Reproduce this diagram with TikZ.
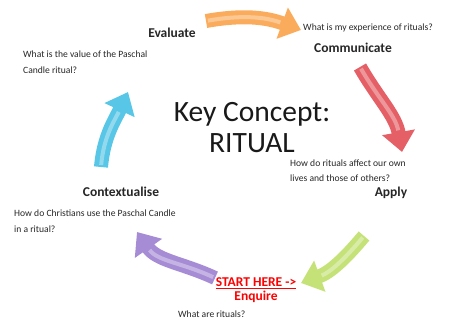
\documentclass[tikz,border=0pt]{standalone}
\usepackage{fontspec}
\setmainfont{Carlito}
\usetikzlibrary{arrows.meta}
\definecolor{evalorange}{RGB}{250,172,92}
\definecolor{applyred}{RGB}{228,96,102}
\definecolor{enqgreen}{RGB}{196,226,120}
\definecolor{ctxpurple}{RGB}{166,140,212}
\definecolor{ctxblue}{RGB}{88,198,230}
\definecolor{starthere}{RGB}{255,0,0}
\tikzset{
  stage/.style={font=\fontsize{13.5}{15}\selectfont\bfseries, text=black!85},
  question/.style={font=\fontsize{9.6}{15.5}\selectfont, text=black!85, align=left, anchor=west, inner sep=0pt},
  cyclearrow/.style={line width=14pt, -{Triangle[width=32pt,length=20pt]},
    postaction={draw=white, draw opacity=0.35, line width=4pt, -, shorten >=22pt, shorten <=2pt}}
}
\begin{document}
\begin{tikzpicture}[x=1pt,y=1pt]
\useasboundingbox (0,0) rectangle (470,320);
% centre
\node (key) at (252,192) [font=\fontsize{29.5}{31}\selectfont, align=center, text=black!90] {Key Concept:\\RITUAL};
% stages
\node[stage] (evaluate) at (172,287) {Evaluate};
\node[stage] (communicate) at (353,272) {Communicate};
\node[stage] (apply) at (391,127) {Apply};
\node[stage] (contextualise) at (121,128) {Contextualise};
\node[stage, text=starthere] (start) at (256,37) {\underline{START HERE ->}};
\node[stage, text=starthere] (enquire) at (256,23) {Enquire};
% questions
\node[question] (qevaluate) at (23,258) {What is the value of the Paschal\\Candle ritual?};
\node[question] (qcommunicate) at (303,292) {What is my experience of rituals?};
\node[question] (qapply) at (290,149.5) {How do rituals affect our own\\lives and those of others?};
\node[question] (qcontext) at (14,99) {How do Christians use the Paschal Candle\\in a ritual?};
\node[question] (qenquire) at (178,6) {What are rituals?};
% arrow ends
\coordinate (oa) at (206,299);
\coordinate (ob) at (301,290);
\coordinate (ra) at (360,253);
\coordinate (rb) at (402,168);
\coordinate (ga) at (364,84);
\coordinate (gb) at (301,37);
\coordinate (pa) at (215,42);
\coordinate (pb) at (137,88);
\coordinate (ba) at (101,153);
\coordinate (bb) at (128,228);
% cycle
\draw[cyclearrow, evalorange] (oa) to[out=10,in=160] (ob);
\draw[cyclearrow, applyred] (ra) to[out=-60,in=100] (rb);
\draw[cyclearrow, enqgreen] (ga) to[out=-130,in=20] (gb);
\draw[cyclearrow, ctxpurple] (pa) to[out=155,in=-55] (pb);
\draw[cyclearrow, ctxblue] (ba) to[out=85,in=-115] (bb);
\end{tikzpicture}
\end{document}
